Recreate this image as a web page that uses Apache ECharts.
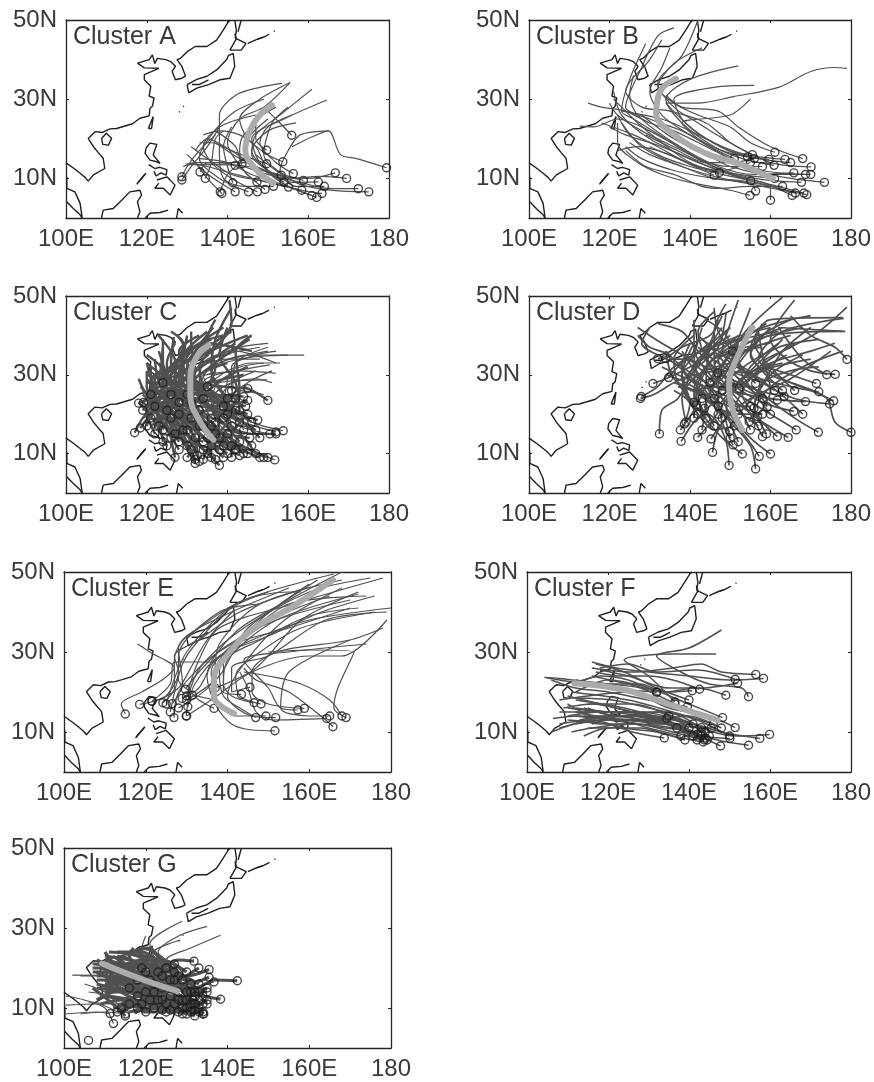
<!DOCTYPE html>
<html><head><meta charset="utf-8">
<style>html,body{margin:0;padding:0;background:#fff}#c{width:874px;height:1082px;filter:blur(0.5px)}</style>
<script src="https://cdn.jsdelivr.net/npm/echarts@6/dist/echarts.min.js"></script>
</head><body><div id="c"></div>
<script>
const xTickValues=[100,120,140,160,180];
const xTickLabels=['100E','120E','140E','160E','180'];
const yTickValues=[10,30,50];
const yTickLabels=['10N','30N','50N'];
const clusterNames=['Cluster A','Cluster B','Cluster C','Cluster D','Cluster E','Cluster F','Cluster G'];

const coastlines=[
[[140.7,50],[140.2,49.5],[138.9,47.4],[137.3,44.9],[134.9,43.3],[132,43.3],[130,42],[128.3,40.3],[127.5,40],[128.7,38.3],[129.6,35.8],[128.7,35.3],[127.1,34.9],[126.3,37],[127.1,38.3],[125.9,39.5],[124.7,40],[122.6,40.3],[122,39],[121.4,41.2],[120.6,40],[117.7,39.1],[119.4,37.9],[123,37.8],[119.4,36.2],[119.4,34.9],[121,33.3],[120.6,30.8],[121.8,30.3],[121.4,28.2],[120.8,27.7],[120.6,25.8],[118.3,25.2],[116.5,23.8],[114.2,23.1],[112.5,22.6],[110.9,22.5],[109,21.6],[107.2,21.8],[105.5,20.1],[106.8,18],[108,16.5],[109.2,15.1],[109.6,12.5],[106.8,10.9],[105.5,9.3],[104.8,10.2],[103.5,11.3],[102,12.5],[100.2,13.8],[100,14]],
[[100.2,10.4],[100.2,7.5],[102.2,6.6],[103.5,3.7],[103.9,0.8],[104,0]],
[[100.2,4.1],[101.8,2.4],[103.5,0.8],[104,0]],
[[108.8,20.1],[110,21.4],[111.3,20.1],[110.5,18.4],[109.1,18.6],[108.8,20.1]],
[[120.4,22.6],[121.6,25.6],[122,25.2],[121.2,22.6],[120.4,22.6]],
[[119.8,17.6],[120.8,18.9],[122.5,18.6],[121.6,15.9],[123.3,13.8],[122.5,14.2],[120.8,14.6],[119.6,16.3],[119.8,17.6]],
[[120.5,13.5],[122,12.5],[123.2,12.8],[125,12.2],[124.8,10.8],[123.5,11.4],[122.3,10.6],[121.8,11.8]],
[[122.5,9.6],[125,10.4],[127,8.3],[125.8,5.8],[124.1,7.5],[122,7.5],[123,8.8]],
[[117.5,8.5],[119.8,11.3]],
[[117.7,8.8],[119.6,11.1]],
[[108.8,0],[109.2,2],[111.7,2.4],[113.8,4.5],[115.8,6.6],[118.3,7],[118.7,5.8],[117.7,4.1],[118.3,1.6],[117.7,0]],
[[119.6,0],[120.8,1.2],[123.3,1.4],[125.3,2]],
[[127.4,0],[127.8,2.4],[128.9,1.2]],
[[130,33.7],[130.4,31.6],[132.4,32.8],[135.3,33.7],[138.1,34.9],[140.6,35.3],[141.8,38.3],[141.4,41.6],[140.2,41],[139.8,40],[137.3,37.4],[134.9,35.8],[132.4,35],[130,33.7]],
[[131.2,33.7],[133,33.7],[135.3,34.9]],
[[140.6,42.4],[142.2,45.3],[141.8,46.6]],
[[141.9,45.4],[144.6,44.1],[143.4,42.4],[140.6,42.4]],
[[141.8,50],[141.8,49.5],[142.2,47.4],[141.9,45.4]],
[[143.4,50],[143.4,49.5],[142.6,47]],
[[145,44.1],[147,45],[148.7,45.6]],
[[147.3,45.1],[149,45.7],[150.3,46.4]],
[[151.5,47.1],[151.7,47.3]],
[[129,28.1],[129.2,28.3]],
[[128,26.7],[128.2,26.9]],
];

const tracksA=[
[[179.4,12.7],[172,15],[168,16],[165,22],[161,20.5],[156,18]],
[[175,6.6],[166,7],[158,8.5],[152,12],[147,16]],
[[172.4,7.4],[165,7.5],[158,9],[150,11],[144,13]],
[[169.5,10],[163,10.5],[156,10],[150,12],[146,17],[150,22],[157,24]],
[[166.7,11.4],[160,10],[154,11],[149,16],[151,24],[155,28]],
[[162.5,9.1],[156,9],[150,12],[146,16],[147,21],[153,26],[160.9,32.5]],
[[163.4,6.2],[155,8],[148,14],[146,20],[154,25],[164.6,29.8]],
[[162.1,5.2],[155,8],[149,12],[143,15],[137,19]],
[[160.9,5.7],[152,9],[146,11],[140,14],[133,15]],
[[158.4,7],[150,9],[142,11],[135,13],[129.5,14]],
[[158.8,9.5],[152,11],[145,13],[138,13.5],[130,13.5]],
[[156.3,11.2],[152,14],[148,19],[150,23],[156,26]],
[[155.1,7.8],[148,9.5],[141,11],[135,15],[131,18]],
[[154,9],[150,12],[147,18],[143,21],[138,22],[134,21]],
[[153.3,10.8],[147,13],[141,17],[135,20],[132,17]],
[[153.7,14.2],[150,16],[145,20],[143,25],[148,30],[155.5,34.2]],
[[155.9,20.9],[153,24],[150,27]],
[[151.4,8],[144,8],[139,10],[138,16],[138,21],[138,26],[142,31],[148,33],[153.5,34]],
[[149.3,7.2],[144,12],[140,19],[143,25],[149,28],[155.5,34.2]],
[[147.4,6.6],[141,10],[136,14],[134,18],[138,23],[147,26]],
[[145.2,6.6],[138,10],[133,15],[136,21],[142,27],[149,30]],
[[141.9,6.6],[138,9],[134,12],[131,15]],
[[141.3,8.9],[140,13],[139,18],[141,23]],
[[138.6,6.2],[135,10],[132,14],[130,16]],
[[138.2,6.6],[140,11],[144,15],[145,20],[150,25]],
[[134.5,10],[136,14],[137,20],[139,22]],
[[133.2,11.6],[135,14],[140,14],[146,14]],
[[128.7,10.4],[130,13],[133,17],[137,21]],
[[128.7,9.6],[131,13],[135,18],[138,23]],
[[141.9,13.3],[138,14],[132,14],[129,13]],
[[143.6,13.7],[143,17],[144,21],[147,23]],
[[149.7,17.1],[147,20],[147,24],[152,28]],
[[149.7,13.7],[146,15],[141,17],[136,19],[133,19]],
[[147.3,9.1],[144,12],[142,18],[137,22]],
[[164,8],[157,8],[153,12],[155,17],[158,21],[165,22]],
];
const tracksB=[
[[173.4,9],[165,10],[156,12],[146,17],[136,22],[130,24],[124,27],[118,28],[114.7,29]],
[[170.1,12.9],[160,14],[150,19],[142,24],[136,28],[132,34],[138,41],[142,50]],
[[168.7,11],[158,12],[150,15],[140,21],[133,26],[130,32],[133,38],[135,43]],
[[167.7,9],[156,10],[146,13],[137,18],[128,23],[122,25],[116,23],[112.6,23.2]],
[[165.8,11.4],[156,11],[147,13],[136,19],[127,26],[125,31],[126,36]],
[[169,5.9],[160,8],[150,11],[140,15],[130,20],[123,26],[121,32]],
[[168.3,6.3],[158,9],[148,12],[138,17],[128,22],[122,26],[120,29]],
[[165.4,5.7],[158,9],[150,11],[142,14],[133,18],[124,21],[120,23]],
[[166.2,6.3],[158,8],[148,10],[138,13],[128,18],[123,24]],
[[163.6,14.8],[154,16],[146,19],[140,23],[134,29],[142,29],[150.6,30.6],[162,33],[170,37],[176,38],[179,37.8]],
[[161.1,16.6],[155,19],[150,23],[142,26],[136,29],[132,33],[136,39],[143,43]],
[[160.9,13.3],[153,15],[146,18],[138,24],[134,30],[140,35],[152,38.4]],
[[159.6,14.8],[152,16],[144,20],[138,25],[136,30],[146,33],[156,33.5]],
[[160,4.5],[160,7.5],[154,9],[146,10],[138,13],[130,16],[125,19]],
[[156.3,6.8],[155,9],[146,10],[136,12],[128,15],[124,18]],
[[154.9,5.7],[150,7],[140,9],[133,11],[127,14],[122,19],[122,24]],
[[155.1,9.4],[148,11],[140,13],[132,16],[125,21],[122,26]],
[[155.5,16],[150,19],[144,24],[135,27],[128,28],[124,32],[130,40],[133,45]],
[[154.3,15.4],[148,17],[142,20],[138,24],[150,26],[155,30]],
[[147.3,11.5],[140,14],[133,19],[127,24],[124,27],[121,30]],
[[146,10.8],[139,14],[132,18],[126,21],[118,24]],
[[161,10],[152,11],[143,12.5],[135,16],[127,18],[122,17]],
[[158,13],[150,13],[142,15],[134,20],[126,25],[123,27],[125,35],[129,44]],
[[170,11],[160,11],[150,13],[146,15],[136,20],[128,26]],
[[165,14],[157,15],[150,17],[140,22],[133,25],[123,27]],
[[151,15],[145,18],[138,22],[130,25],[124,28],[128,38],[132,46],[136,48]],
[[163,8],[155,8],[147,7.5],[143,8],[136,11],[129,13],[124,17]],
[[168,15],[160,18],[152,23],[147,27],[138,28],[134,31]],
[[155,14],[148,12],[142,13],[137,15],[130,18]],
[[156,15],[150,14],[144,14],[137,17],[129,21]],
];
const tracksC=[
[[151.7,8.4],[144,12],[137,17],[133,24],[135,31],[145,35],[159,35]],
[[150,23.5],[147,25.5],[144,27]],
[[153.8,15.8],[146,18],[138,23],[134,30],[143,34],[155,35]],
[[152,15.5],[144,18],[137,22],[134,28],[143,31],[152,30.4]],
[[150.5,15],[143,17],[135,23],[133,29],[142,31],[150.5,32.5]],
[[149,9],[141,14],[136,22],[138,28],[149.8,28.7]],
[[148,9],[140,13],[133,20],[131,27],[137,33],[145.5,39]],
[[147.5,18.5],[141,21],[135,25],[133,32],[138,38],[141,43],[140.5,49]],
[[144.5,22],[139,24],[133,27],[131,33],[136.5,42]],
[[145,26.5],[139,27],[133,28],[128,32],[126,36],[122.5,40.5]],
[[144,24.5],[137,25],[130,27],[126,33],[126.7,39.6]],
[[145,23.5],[138,22],[131,24],[127,30],[130,39]],
[[145.5,14],[137,16],[130,22],[128,29],[131,36],[139,42]],
[[144,10],[136,16],[129,23],[125,30],[123,36]],
[[142,11],[135,15],[127,22],[122,27],[120,33]],
[[140,10],[133,15],[125,21],[120,25],[118,29]],
[[138,7],[132,13],[124,19],[119,23]],
[[137,8.5],[131,14],[125,24],[125,33],[127,38]],
[[132,7.5],[129,13],[124,20],[121,26],[121,32]],
[[132.5,9.5],[130,15],[127,22],[126,30],[132,37]],
[[117,15.3],[119,19],[123,24],[126,30],[132,35]],
[[118.4,16.5],[121,20],[125,24],[131,30],[142,38]],
[[118,22.8],[122,25],[127,29],[134,35],[145,40]],
[[119.2,23],[123,27],[128,32],[137,37]],
[[121,19],[124,23],[129,29],[136,34],[148,37]],
[[124,16],[126,21],[130,27],[138,33],[150,36]],
[[123,17],[122,22],[120,27],[120,31]],
[[126,14],[124,20],[121,24],[118.5,27]],
[[128,11],[125,16],[122,22],[119,25]],
[[130,12],[127,17],[123,22],[121,29]],
[[134,11],[130,17],[126,23],[123,28],[122,34]],
[[136,12],[131,18],[127,25],[127,34]],
[[139,12],[134,18],[129,24],[124,26],[120,25]],
[[141,12],[136,18],[130,22],[124,23],[120,22]],
[[143,13],[137,20],[131,26],[125,28],[120,28]],
[[146,12],[140,18],[134,23],[128,25],[122,24]],
[[148,14],[141,20],[133,22],[126,22],[120,20]],
[[146,18],[139,23],[132,27],[126,31],[122,30]],
[[143,18],[136,21],[129,20],[123,21],[119,19]],
[[140,15],[134,16],[128,17],[123,20]],
[[137,15],[132,19],[125,19],[121,17]],
[[142,21],[136,26],[130,30],[128,36],[133,40]],
[[139,19],[134,24],[130,32],[135,38],[146,36]],
[[136,19],[133,26],[134,33],[142,36],[152,33]],
[[133,21],[130,28],[133,35],[141,41]],
[[131,23],[128,28],[129,35],[135,41]],
[[128,23],[125,27],[124,34],[124,39]],
[[126,19],[124,26],[124,31],[120,35]],
[[129,16],[128,23],[130,30],[140,34],[148,34]],
[[132,14],[132,22],[137,29],[146,33],[153,33]],
[[135,14],[135,22],[139,27],[147,29],[151,28]],
[[138,14],[138,21],[143,26],[149,25]],
[[141,17],[140,23],[145,28],[151,31]],
[[144,16],[141,22],[136,30],[140,36],[150,38]],
[[127,9],[126,15],[128,21],[134,27]],
[[122,15],[120,21],[123,29],[124,37]],
[[125,12],[122,18],[118,23]],
[[134,8.5],[136,13],[140,18],[142,24]],
[[141,9],[141,14],[144,19]],
[[147,10],[143,15],[139,16]],
[[135,10],[138,15],[137,22]],
[[130,9],[133,14],[131,22]],
[[140,24],[136,31],[137,39],[141,47]],
[[134,24],[129,33],[130,40]],
[[133,8],[131,16],[126,21],[120,23.5]],
[[132,8.5],[128,17],[124,24],[120,24]],
[[139,9],[134,14],[128,20],[122,21]],
[[143,9.5],[136,14],[131,20],[125,24],[121,26]],
[[145,10],[139,15],[133,19],[128,22],[123,25]],
[[150,9],[143,12],[137,14],[132,18],[127,20]],
[[152,15],[146,15],[140,17],[133,21],[126,26]],
[[147,16],[142,19],[136,24],[129,26],[122,27]],
[[145,20],[140,22],[134,26],[127,28],[120,30]],
[[142,24],[136,25],[130,29],[124,30],[120,33]],
[[139,22],[133,24],[127,24],[122,22]],
[[136,17],[130,20],[125,22],[120,21]],
[[133,17],[128,19],[123,23],[119,26]],
[[130,16],[126,19],[122,24],[122,30]],
[[127,15],[125,20],[125,27],[123,33]],
[[124,13],[123,19],[122,26],[120,29]],
[[120,17],[122,22],[126,27],[129,33]],
[[119,21],[124,25],[130,26],[137,29]],
[[122,22],[127,24],[133,30],[140,33]],
[[125,21],[130,25],[136,28],[144,30]],
[[128,20],[133,24],[139,29],[145,32]],
[[131,19],[136,22],[141,28],[147,31]],
[[134,17],[139,24],[141,31],[149,33]],
[[137,18],[141,25],[142,33],[150,37]],
[[140,20],[143,26],[142,36],[146,40]],
[[143,21],[142,28],[138,35],[140,42]],
[[124,28],[127,33],[133,38],[139,40]],
[[121,25],[124,30],[130,36],[136,39]],
[[126,25],[129,30],[129,38],[126,41]],
[[130,25],[132,31],[131,38],[131,41]],
[[135,27],[137,32],[135,39],[137,44]],
[[141,26],[141,32],[147,35],[152,36]],
[[136,9],[135,17],[129,25],[123,29]],
[[128,13],[124,18],[120,19]],
[[131,11],[127,15],[122,19]],
[[134,13],[129,15],[123,17]],
[[138,11],[133,12],[128,14],[124,15]],
];
const tracksD=[
[[180,15.4],[176,18],[174,24],[168,27],[160,30],[155,35],[160,42]],
[[179,33.9],[176,37],[170,40],[165,45]],
[[176.1,30.1],[170,31],[164,34],[160,39],[166,49]],
[[175.7,23.4],[170,26],[163,29],[157,34],[163,41],[178.2,44.3]],
[[174.7,22.6],[166,24],[158,28],[152,33],[160,40],[178.6,41]],
[[171.9,15.4],[166,19],[158,25],[150,32],[153,40],[163,49.7]],
[[171.4,27.8],[165,30],[158,33],[165,37],[172,41],[179,47.2]],
[[172,25.7],[165,27],[155,30],[148,36],[150,43],[152,49]],
[[168.7,23.2],[160,24],[152,27],[146,33],[146,41],[148.9,48]],
[[166.4,16],[160,20],[152,25],[145,30],[141,37],[141,44]],
[[164.4,14.1],[158,18],[150,24],[142,28],[136,33],[128,38],[130,42]],
[[165.8,20.7],[158,23],[150,28],[144,35],[150,39],[160,42]],
[[163.4,24.5],[157,26],[150,29],[140,34],[133,38],[127,42]],
[[161.7,23.6],[154,25],[146,27],[138,32],[134,36]],
[[161.7,14.3],[157,19],[153,25],[158,32],[170,36],[176,38]],
[[160,9.9],[155,14],[150,20],[147,28],[150,36],[156,42]],
[[158,14.3],[155,20],[150,26],[146,32],[154,38],[168,42]],
[[157.2,9.3],[154,14],[149,20],[143,26],[138,32],[140,38]],
[[156.3,6.1],[155,12],[150,18],[144,24],[136,29],[134,36]],
[[153,9.9],[148,14],[143,20],[138,27],[143,34],[150,42]],
[[149.7,7],[149,13],[146,19],[140,23],[138,30],[146,39]],
[[150.7,12.2],[148,18],[147,25],[152,31],[162,37],[172,39]],
[[149.9,15.6],[144,20],[141,26],[146,34],[158,37]],
[[145.6,10.3],[147,16],[151,22],[155,29],[164,35]],
[[145.2,13.7],[149,19],[155,24],[165,29],[175,36]],
[[141.9,14.1],[146,19],[150,25],[158,31],[170,34]],
[[137.8,13.1],[141,18],[147,24],[155,31],[163,39]],
[[137.6,16],[141,21],[145,29],[150,35],[155,47]],
[[132.4,15],[133,21],[137,24],[141,31],[147,37],[149,46]],
[[138.6,17.5],[140,23],[138,30],[141,38]],
[[127.9,24.5],[132,27],[136,32],[143,36],[155,40]],
[[127.7,24],[131,25],[138,29],[148,31],[157,30]],
[[130.8,27.8],[134,29],[140,32],[150,38],[162,41]],
[[134.7,29.3],[138,33],[144,37],[150,42]],
[[132,34.1],[135,35],[130,37],[127,40]],
[[134,34.1],[138,37],[145,40],[148,45]],
[[141.5,22.3],[142,28],[147,35],[160,38]],
[[143.6,21.5],[146,28],[152,35],[165,40]],
[[146.9,30.5],[142,36],[138,41],[132,43]],
[[150.6,36],[147,41],[146,47]],
[[152.2,26.6],[155,32],[162,38]],
[[156.3,27.8],[152,34],[156,41],[170,45]],
[[155.9,21.5],[158,28],[165,31],[172,32]],
[[154.7,18.1],[159,26],[168,32],[178,36]],
[[156.8,19.4],[160,26],[158,35],[157,41]],
[[159.2,21.9],[155,27],[148,27],[140,26]],
[[158,20],[152,20],[146,22],[141,26],[136,28]],
[[151,17],[146,16],[142,20],[139,24],[136,26]],
[[143,16],[144,24],[139,28],[134,30]],
[[147,20],[143,27],[137,30],[133,32]],
[[155,16],[152,22],[146,30],[142,41],[146,46]],
[[160,20],[153,30],[149,40],[144,44]],
[[168,20],[160,27],[150,31],[142,37]],
[[163,26],[155,36],[160,44],[178,44.5]],
[[174,30],[168,34],[162,42],[178,41]],
[[141,19],[141,25],[148,29],[152,38]],
[[146,24],[150,30],[158,40],[165,44]],
[[142,20],[139,26],[142,34],[150,40]],
[[144,19],[142,25],[145,33],[152,40]],
[[146,17],[144,22],[148,30],[155,37]],
[[150,14],[148,21],[144,28],[145,37],[148,42]],
[[152,13],[149,22],[154,30],[163,33]],
[[157,17],[153,20],[148,24],[142,30],[138,36]],
[[159,15],[156,22],[160,30],[168,35]],
[[155,22],[150,22],[144,25],[137,27]],
[[158,24],[153,28],[146,36],[142,40]],
[[161,26],[156,30],[150,34],[143,39]],
[[148,26],[144,30],[139,34],[135,34]],
[[141,23],[137,28],[136,34],[141,40]],
[[139,18],[138,24],[142,30],[150,33]],
[[147,22],[152,28],[160,34],[166,38]],
[[152,20],[157,26],[163,36],[170,42]],
[[150,28],[147,34],[153,39],[159,43]],
[[145,28],[149,34],[156,39],[163,42]],
[[166,26],[160,32],[156,38],[158,43]],
[[148,19],[146,25],[141,33],[143,42]],
[[143,24],[141,30],[145,38],[147,44]],
];
const tracksE=[
[[115,14.5],[114,17],[119,20],[124,23],[127,26],[121,30],[118,32]],
[[118.5,16.9],[123,18],[128,21],[131,26],[135,33],[141.6,40.5]],
[[121.5,17.7],[125,19],[128,25],[127,29],[133,33],[143,40],[158,45.6]],
[[124.2,17.3],[127,21],[127,28],[130,34],[141,40],[155,46]],
[[126.5,17.1],[129,22],[128,31],[133,36],[144,43],[166,49.5]],
[[126.9,13.6],[128,20],[133,26],[140,33],[150,40],[162,48]],
[[129.9,14],[131,21],[134,27],[144,34],[155,42],[174,44]],
[[130.3,16.3],[132,22],[138,29],[150,34],[163,40],[176,44]],
[[128.9,18.4],[133,21],[137,28],[146,33],[160,38],[180,41]],
[[129.7,20.7],[133,25],[139,31],[152,38],[170,43]],
[[131.4,19.2],[137,18],[136,25],[142,32],[155,36],[170,41]],
[[136.7,15.9],[133,18],[131,20],[128,23],[128,29],[138,40],[148,42]],
[[143.4,19.4],[139,20],[139,27],[148,33],[160,39],[172,41]],
[[145.5,21.2],[141,20],[141,26],[150,29],[164,38],[179,40]],
[[146.5,17.3],[141,19],[139,22],[140,28],[152,38],[172,44.5]],
[[148.2,17],[143,19],[142,24],[148,30],[158,36],[176,40]],
[[146.9,13.6],[143,16],[139,19],[138,25],[149,37],[165,44]],
[[149.4,14],[142,14],[137,19],[137,25],[148,38],[160,47]],
[[151.8,13.6],[146,14],[140,19],[144,27],[154,38],[168,46]],
[[151.6,10.3],[146,10.5],[141,12],[137,17],[135,24],[142,35],[155,43],[168,50]],
[[157.2,15.5],[153,16],[150,21],[144,28],[155,30],[174,32]],
[[158.8,15.9],[150,17],[146,20],[146,25],[152,30],[170,33],[178,36]],
[[164.3,13.4],[151,13],[147,15],[145,21],[143,25]],
[[165.8,11.3],[164,13],[155,20],[147,23],[144,26]],
[[169,13.6],[166,16],[167,21],[171,30],[160,30.5],[150,30]],
[[165,14],[160,14],[153,16],[155,25],[170,33]],
[[168,14],[165,18],[158,22],[150,24],[144,25]],
[[130,14],[136,18],[146,25],[160,29],[168,29],[179,38]],
[[121.5,17.7],[126,22],[127,27.5],[137,27.5]],
[[130,19],[133,28],[138,36],[156,42],[178,48.5]],
[[128,16],[136,22],[138,32],[148,42],[168,48]],
[[126,15],[129,27],[133,33],[141,41],[150,45]],
[[130,18],[138,24],[145,36],[160,45],[175,48.5]],
[[137,21],[147,26],[158,38],[172,45]],
[[125,17],[130,30],[142,42],[155,45],[158,45]],
];
const tracksF=[
[[158.4,23.4],[150,23],[140,24],[130,25],[122,26],[116,27.5]],
[[156.5,24.4],[148,25],[143,27],[136,26],[126,25],[116,26]],
[[151.4,23.2],[142,25.5],[132,25],[125,27],[118,26]],
[[152,22.2],[143,21],[135,21],[125,24],[118,25.5]],
[[149.1,19.2],[142,21],[134,20],[125,22],[116,24]],
[[154.7,18.8],[153,21],[145,22],[138,25],[132,29],[140,31],[148,35.5]],
[[142.6,20.7],[136,23],[130,24],[123,24],[117,25]],
[[140.8,20.3],[134,20],[128,22],[120,22],[112,23]],
[[132,19.9],[125,23],[118,24],[112,22]],
[[136.5,17],[128,21],[120,22],[108,23.4],[104.3,23.6]],
[[139.6,16.3],[130,18],[120,20],[112,21],[106,23]],
[[148.3,13.6],[140,17],[130,21],[120,23],[112,20]],
[[151.4,11.1],[145,14],[135,16],[125,20],[115,19],[108,18]],
[[145.5,10.9],[136,13],[126,15],[116,17],[109,16]],
[[143,11.1],[134,12],[124,13],[113,14],[106.4,13.4]],
[[159.9,9.4],[152,9],[146,10],[136,14],[126,17],[115,17]],
[[157.5,8.4],[148,10],[138,13],[128,15],[118,15],[110,14]],
[[154.7,6.7],[147,8],[138,11],[128,13],[118,13],[108,11]],
[[150.1,8.4],[143,9],[135,12],[125,14],[115,13],[106,10]],
[[147.8,6.5],[140,10],[130,13],[120,13],[112,12]],
[[143.8,8],[136,10],[128,12],[120,13],[112,14]],
[[142.2,9.5],[136,12],[126,13],[116,14],[110,17]],
[[139,8],[132,10],[124,11],[116,13],[108,12]],
[[133.9,8.5],[126,10],[120,12],[110,13]],
[[134.5,13.4],[126,15],[118,17],[110,19]],
[[143.5,7.5],[136,9],[128,11],[120,11],[114,9]],
[[144.5,8],[136,11],[125,12],[116,11],[111,10]],
[[143,9],[134,13],[124,16],[112,18]],
[[141,9],[133,13],[125,15],[116,15],[108,15]],
[[144,10],[138,14],[130,16],[121,18],[112,18.5]],
[[150,9],[142,13],[133,15],[121,15],[110,16]],
[[136.5,17.5],[130,24],[124,28],[136,29.5],[146.7,29.5]],
[[140,18],[132,21],[124,25],[117,27]],
[[141,12],[132,14],[122,15],[114,15]],
[[146,12],[136,15],[125,18],[111,20]],
[[137,11],[128,14],[120,15],[112,16]],
[[132,20],[120,21],[108,23],[105,23.5]],
[[144,8.5],[137,12],[130,14],[122,14],[115,16]],
[[142,8],[135,12],[128,14],[118,14],[112,15]],
[[145,9],[139,12],[131,12],[124,14],[116,12]],
[[143,10],[134,11],[126,12],[118,12],[113,13]],
[[138,9],[130,11],[123,13],[114,14]],
[[148,11],[140,14],[131,13],[120,14],[113,13]],
[[135,14],[128,13],[120,11],[115,11]],
[[140,11],[132,15],[123,14],[114,16]],
];
const tracksG=[
[[142.4,16.8],[137,17],[132,15],[125,17],[118,20],[110,22]],
[[138.3,12.2],[134,13],[128,15],[120,18],[112,21]],
[[134.2,8.5],[130,12],[124,15],[116,19],[108,21]],
[[131.8,21.7],[128,22],[123,20],[116,22],[110,23]],
[[135.5,19.6],[130,18],[122,18],[114,20],[107,20]],
[[135.5,17.7],[130,16],[122,18],[113,19],[107,19]],
[[136.7,16.5],[130,15],[122,16],[112,18],[102,18.2]],
[[135,14],[128,15],[119,16],[110,16]],
[[106,1.9]],
[[112.1,6.1],[110,10],[105,12],[100.4,13]],
[[111.3,8.6],[108,9],[100,8.5]],
[[113,9],[108,11],[100.4,10.7]],
[[115,8.5],[110,9],[104,8.5]],
[[134,8.5],[128,10],[120,13],[112,15],[108,16]],
[[133,9],[127,12],[120,16],[112,20]],
[[132,8],[126,11],[118,14],[110,14]],
[[131,9],[125,13],[116,14],[108,15]],
[[130,10],[124,14],[117,18],[108,22]],
[[129,8.5],[123,11],[115,12],[110,13]],
[[128,9],[122,12],[114,16],[108,19]],
[[126,9.5],[122,14],[116,20],[112,23]],
[[124,9.5],[120,13],[114,17],[108,17]],
[[122,10],[118,12],[112,11],[106,11.5]],
[[120,9],[116,12],[110,13]],
[[118,10],[114,12],[109,11]],
[[116,11],[112,13],[106,14]],
[[114,10],[110,14],[105,16]],
[[133,12],[127,18],[122,23],[121,26],[128.9,31.7]],
[[132,14],[128,20],[123,24],[128,28],[135,30.4]],
[[135,11],[129,18],[125,22],[131,25],[138.3,28.2]],
[[130,14],[126,21],[122,24],[128.5,27]],
[[128,18],[122,24],[119,25],[120,28]],
[[127,21],[120,23],[115,23.5]],
[[125,20],[119,24],[113,24]],
[[124,18],[118,23],[111,24]],
[[122,16],[116,20],[110,22]],
[[120,19],[116,23],[117,25]],
[[118,17],[113,21],[107,21]],
[[116,15],[112,18],[104,18]],
[[120,14],[114,16],[108,19]],
[[123,12],[117,16],[111,18]],
[[126,13],[120,16],[114,22]],
[[129,12],[123,17],[118,21]],
[[131,11],[125,16],[119,22]],
[[133,10],[127,16],[121,20],[114,23]],
[[134,11],[128,13],[122,13],[115,14]],
[[132,13],[126,15],[119,13],[113,12]],
[[133,16],[127,19],[120,21],[114,19]],
[[131,16],[125,19],[118,19],[112,16]],
[[128,14],[122,15],[115,16],[110,20]],
[[130,19],[124,22],[119,22],[113,20]],
[[131.5,12],[125,11],[118,11],[112,10]],
[[127,17],[121,19],[114,18],[108,18]],
[[124,15],[118,15],[112,14],[108,12]],
[[121,12],[116,14],[110,17]],
[[125,11],[120,11],[115,10]],
[[129,10],[124,10],[117,9]],
[[115,8],[112,11],[107,15]],
[[133,20],[128,17],[121,14],[115,12]],
[[135,15],[130,13],[124,12],[118,10]],
[[119,20],[114,20],[110,24]],
[[121,17],[116,17],[110,15]],
[[134,9],[129,11],[124,9],[119,9]],
[[132,9.5],[127,9],[121,10],[116,9]],
[[130,8.5],[126,10],[121,12],[114,11]],
[[133,14],[128,12],[123,14],[117,15]],
[[131,14],[126,17],[121,17],[115,18]],
[[134,13],[130,17],[124,20],[118,24]],
[[129,17],[125,21],[120,25],[118,24]],
[[127,19],[123,23],[121,25],[116,24]],
[[126,17],[121,21],[115,21],[110,19]],
[[123,19],[119,21],[113,23]],
[[124,12],[118,17],[112,19]],
[[127,11],[122,16],[116,17],[110,18]],
[[119,11],[114,14],[110,16]],
[[118,13],[114,18],[109,20]],
[[122,14],[117,11],[113,9]],
[[125,9],[119,11],[114,9]],
[[128,12],[125,18],[122,22]],
[[132,11],[129,15],[127,21]],
[[130,12],[126,14],[120,15]],
[[135,12],[131,10],[127,13]],
];
const meanA=[[151.4,8.9],[147.3,12],[144.4,17.1],[145.6,22.2],[148,26],[151,28.5]];
const meanB=[[160.6,9.9],[152.2,13.7],[144,16.3],[135.7,21.3],[131.6,26.4],[132.8,32.3],[136.5,35.2]];
const meanC=[[136.5,13.5],[133.2,18.1],[130.8,24.5],[130.8,29.5],[132.4,34.6],[135.3,37.5]];
const meanD=[[153,16],[150.5,21.5],[149.7,27.8],[151.8,34.6],[155.5,42]];
const meanE=[[141.6,14.6],[136.7,18.8],[136.7,23.4],[140,29.3],[146.5,36],[154.7,40.6],[165.8,48]];
const meanF=[[147.1,13],[135.7,16.7],[124.3,20.5],[111.7,22.2]];
const meanG=[[127.7,14.2],[118.7,17.3],[109.3,21.1]];

const allTracks=[tracksA,tracksB,tracksC,tracksD,tracksE,tracksF,tracksG];
const allMeans=[meanA,meanB,meanC,meanD,meanE,meanF,meanG];
const layout=[[66,20,323,198],[529,20,323,198],[66,296,323,197],[529,296,323,197],[64,572,327,200],[527,572,327,200],[64,848,327,200]];
const trackWidths=[1.2,1.2,2.4,1.7,1.2,1.5,3.2];
// Tracks that leave a panel's dense core are drawn with a thin stroke.
const thinTest=[()=>false,()=>false,t=>t[t.length-1][0]>146,()=>false,()=>false,()=>false,t=>t.some(p=>p[1]>26||p[0]<107)];

const ink='#262626', trackInk='#505050', font='"Liberation Sans",Arial,sans-serif';
const grid=[],xAxis=[],yAxis=[],series=[],title=[];
layout.forEach((g,i)=>{
  grid.push({left:g[0],top:g[1],width:g[2],height:g[3]});
  title.push({text:clusterNames[i],left:g[0]+7,top:g[1]+5,padding:0,textStyle:{fontFamily:font,fontSize:25,fontWeight:'normal',color:'#3a3a3a'}});
  const base={min:100,max:180,gridIndex:i,splitLine:{show:false},axisLine:{onZero:false,lineStyle:{color:ink,width:1.3}},
    axisTick:{inside:true,length:3,customValues:xTickValues,lineStyle:{color:ink}}};
  xAxis.push({...base,type:'value',position:'bottom',axisLabel:{customValues:xTickValues,formatter:v=>xTickLabels[xTickValues.indexOf(v)],fontFamily:font,fontSize:24,color:'#3a3a3a',margin:9,hideOverlap:false}});
  xAxis.push({...base,type:'value',position:'top',axisLabel:{show:false}});
  const yb={min:0,max:50,gridIndex:i,splitLine:{show:false},axisLine:{onZero:false,lineStyle:{color:ink,width:1.3}},
    axisTick:{inside:true,length:3,customValues:yTickValues,lineStyle:{color:ink}}};
  yAxis.push({...yb,type:'value',position:'left',axisLabel:{customValues:yTickValues,formatter:v=>yTickLabels[yTickValues.indexOf(v)],fontFamily:font,fontSize:24,color:'#3a3a3a',margin:9}});
  yAxis.push({...yb,type:'value',position:'right',axisLabel:{show:false}});
  const ax={xAxisIndex:i*2,yAxisIndex:i*2,silent:true,animation:false};
  coastlines.forEach(c=>series.push({...ax,type:'line',data:c,showSymbol:false,z:2,lineStyle:{color:'#1f1f1f',width:1.4}}));
  allTracks[i].forEach(t=>{ if(t.length>1) series.push({...ax,type:'line',data:t,smooth:0.3,showSymbol:false,z:3,lineStyle:{color:trackInk,width:thinTest[i](t)?1.2:trackWidths[i]}}); });
  series.push({...ax,type:'scatter',data:allTracks[i].map(t=>t[0]),symbol:'circle',symbolSize:8,z:4,itemStyle:{color:'rgba(0,0,0,0)',borderColor:'#1c1c1c',borderWidth:1.4}});
  series.push({...ax,type:'line',data:allMeans[i],smooth:0.4,showSymbol:false,z:5,lineStyle:{color:'#ababab',width:6,cap:'round'}});
});
const chart=echarts.init(document.getElementById('c'),null,{renderer:'canvas'});
chart.setOption({animation:false,backgroundColor:'#fff',title,grid,xAxis,yAxis,series,tooltip:{show:false},legend:{show:false}});
</script></body></html>
